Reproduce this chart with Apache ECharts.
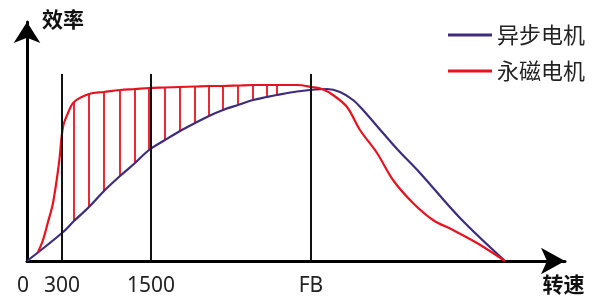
<!DOCTYPE html>
<html>
<head>
<meta charset="utf-8">
<script src="https://cdn.jsdelivr.net/npm/echarts@6/dist/echarts.min.js"></script>
<style>
  html, body { margin: 0; padding: 0; background: #fff; }
  #chart { width: 599px; height: 297px; }
</style>
</head>
<body>
<div id="chart"></div>
<script>
// 横轴不按比例：300 / 1500 / FB 只是标记位置
const tickU = [0, 35, 124, 284]
const tickLabels = ['0', '300', '1500', 'FB']
const guideU = [35, 124, 284]
const guideTop = 187

// 阴影竖线位置，以及两条曲线在这些位置上的值
const hatchU = [47, 62, 77, 93, 108, 122, 138, 153, 168, 182, 196, 211, 226, 240, 250]
const hatchBlue = [40, 54, 70, 85, 98, 111, 121, 130, 138, 145, 151, 156, 161, 164, 166]
const hatchRed = [159, 167, 169, 171, 172, 173, 173.5, 174, 174.5, 175, 175, 175.5, 176, 176, 176]

const blueHead = [[0, 0], [35, 28]]
const blueTail = [[270, 169.5], [288, 171.5], [300, 172], [313, 169], [326, 161], [336, 151],
  [356, 128], [371, 111], [393, 88], [433, 43], [478, 0]]
const redHead = [[11, 9], [16, 21], [21, 39], [26, 58], [32, 98], [36, 134], [41, 148]]
const redTail = [[270, 176], [285, 174], [295, 172], [306, 166], [320, 154], [333, 131],
  [350, 108], [366, 81], [386, 58], [406, 41], [426, 31], [450, 18], [478, 0]]

const BLUE = '#3d2c7e'
const RED = '#e8121f'
const TEXT = '#222'

const blueData = blueHead.concat(hatchU.map((u, i) => [u, hatchBlue[i]]), blueTail)
const redData = redHead.concat(hatchU.map((u, i) => [u, hatchRed[i]]), redTail)

const myChart = echarts.init(document.getElementById('chart'))
const options = {
  animation: false,
  // 纵轴名称
  title: {
    text: '效率',
    left: 42,
    top: 7,
    padding: 0,
    textStyle: { fontFamily: 'Noto Sans CJK SC', fontSize: 21, fontWeight: 'bold', color: '#111', lineHeight: 24 }
  },
  grid: { left: 27, right: 34, top: 22, bottom: 36 },
  legend: {
    data: ['异步电机', '永磁电机'],
    orient: 'vertical',
    left: 443,
    top: 18,
    icon: 'rect',
    itemWidth: 44,
    itemHeight: 3,
    itemGap: 12,
    itemTextGap: 5,
    selectedMode: false,
    textStyle: { fontFamily: 'Noto Sans CJK SC', fontSize: 22, lineHeight: 24, color: TEXT }
  },
  xAxis: {
    type: 'value',
    min: 0,
    max: 538,
    name: '转速',
    nameLocation: 'end',
    nameGap: -1.5,
    nameTextStyle: {
      fontFamily: 'Noto Sans CJK SC', fontSize: 21, fontWeight: 'bold', color: '#111',
      align: 'center', verticalAlign: 'top', padding: [13, 0, 0, 0]
    },
    axisLine: {
      symbol: ['none', 'arrow'],
      symbolSize: [20, 24],
      lineStyle: { color: '#000', width: 3 }
    },
    axisTick: { show: false },
    splitLine: { show: false },
    axisLabel: {
      customValues: tickU,
      margin: 15,
      fontFamily: 'Noto Sans',
      fontSize: 21,
      color: TEXT,
      formatter: (v) => {
        const s = tickLabels[tickU.indexOf(v)]
        return v === 0 ? '{z|' + s + '}' : s
      },
      rich: {
        z: { fontFamily: 'Noto Sans', fontSize: 21, color: TEXT, padding: [0, 8, 0, 0] }
      }
    }
  },
  yAxis: {
    type: 'value',
    min: 0,
    max: 239,
    axisLine: {
      symbol: ['none', 'arrow'],
      symbolSize: [20, 21],
      lineStyle: { color: '#000', width: 3 }
    },
    axisTick: { show: false },
    splitLine: { show: false },
    axisLabel: { show: false }
  },
  series: [
    {
      type: 'custom',
      silent: true,
      z: 3,
      data: hatchU.map((u, i) => [u, hatchBlue[i], hatchRed[i]]),
      renderItem: (params, api) => {
        const a = api.coord([api.value(0), api.value(1)])
        const b = api.coord([api.value(0), api.value(2)])
        return {
          type: 'line',
          shape: { x1: a[0], y1: a[1], x2: b[0], y2: b[1] },
          style: { stroke: RED, lineWidth: 1.8 }
        }
      }
    },
    {
      name: '异步电机',
      type: 'line',
      data: blueData,
      smooth: 0.35,
      showSymbol: false,
      z: 4,
      itemStyle: { color: BLUE },
      lineStyle: { color: BLUE, width: 2.2 }
    },
    {
      name: '永磁电机',
      type: 'line',
      data: redData,
      smooth: 0.35,
      showSymbol: false,
      z: 5,
      itemStyle: { color: RED },
      lineStyle: { color: RED, width: 2.2 }
    },
    {
      type: 'custom',
      silent: true,
      z: 6,
      data: guideU.map((u) => [u, guideTop]),
      renderItem: (params, api) => {
        const a = api.coord([api.value(0), 0])
        const b = api.coord([api.value(0), api.value(1)])
        return {
          type: 'line',
          shape: { x1: a[0], y1: a[1], x2: b[0], y2: b[1] },
          style: { stroke: '#111', lineWidth: 2 }
        }
      }
    }
  ]
}
myChart.setOption(options)
</script>
</body>
</html>
